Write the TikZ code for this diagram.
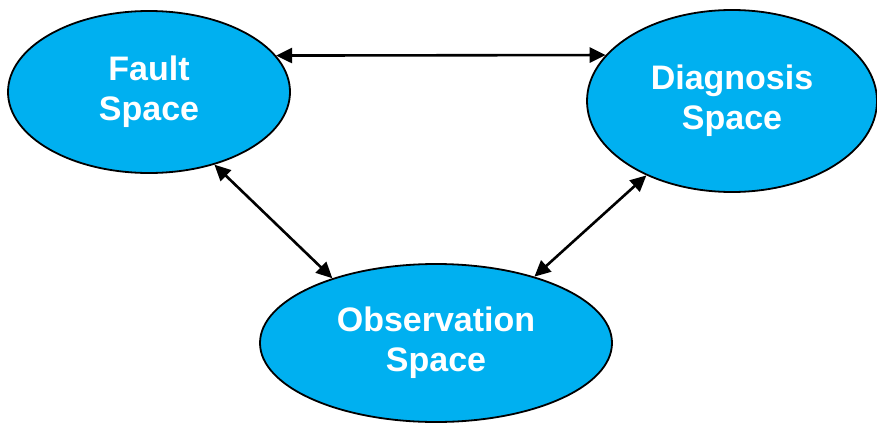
\documentclass[tikz,border=0pt]{standalone}
\usepackage{fontspec}
\setmainfont{Liberation Sans}
\usetikzlibrary{shapes.geometric,arrows.meta}
\definecolor{spaceblue}{HTML}{00B0F0}
\tikzset{
  space/.style={ellipse, draw=black, line width=1.8pt, fill=spaceblue, inner sep=0pt,
    text=white, align=center, font=\fontsize{34}{40}\selectfont\bfseries},
  link/.style={line width=2.6pt, {Triangle[length=16pt,width=15pt]}-{Triangle[length=16pt,width=15pt]}}
}
\begin{document}
\begin{tikzpicture}[x=1pt,y=-1pt]
\useasboundingbox (0,0) rectangle (877,423);
\node[space, minimum width=282pt, minimum height=162pt] (fault) at (149,92) {Fault\\Space};
\node[space, minimum width=290pt, minimum height=182pt] (diag) at (732,101) {Diagnosis\\Space};
\node[space, minimum width=352pt, minimum height=158pt] (obs) at (436,343) {Observation\\Space};
\draw[link] (fault.16) -- (diag.160);
\draw[link] (fault.-48) -- (obs.148);
\draw[link] (diag.221) -- (obs.34);
\end{tikzpicture}
\end{document}
